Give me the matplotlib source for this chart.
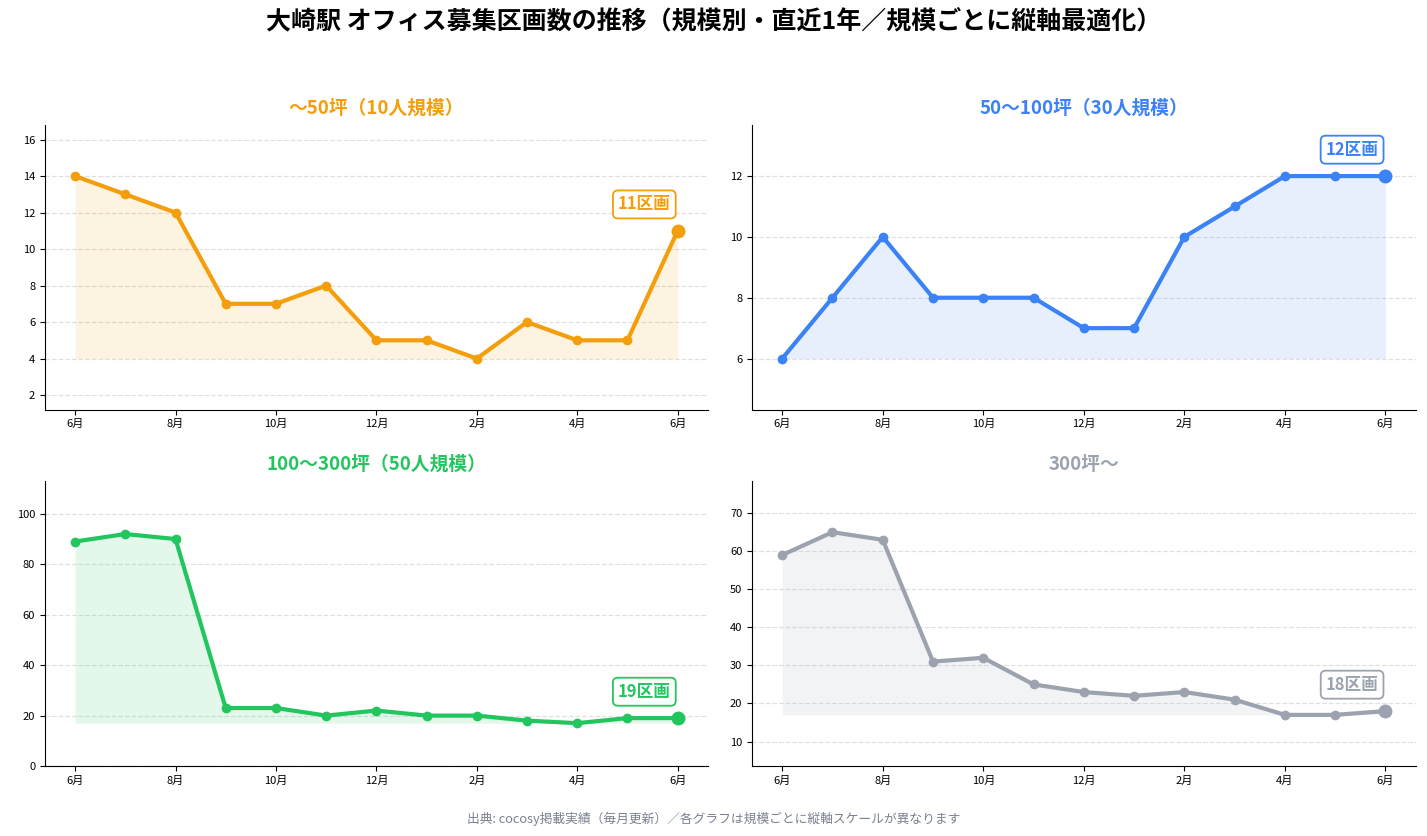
import numpy as np
import matplotlib
matplotlib.use("Agg")
import matplotlib.pyplot as plt

plt.rcParams['font.family'] = ['Noto Sans CJK JP', 'DejaVu Sans']

months = ["6月", "7月", "8月", "9月", "10月", "11月", "12月", "1月", "2月", "3月", "4月", "5月", "6月"]

titles = ["～50坪（10人規模）", "50～100坪（30人規模）", "100～300坪（50人規模）", "300坪～"]
colors = ["#F59E0B", "#3B82F6", "#22C55E", "#9CA3AF"]

small = [14, 13, 12, 7, 7, 8, 5, 5, 4, 6, 5, 5, 11]
mid = [6, 8, 10, 8, 8, 8, 7, 7, 10, 11, 12, 12, 12]
large = [89, 92, 90, 23, 23, 20, 22, 20, 20, 18, 17, 19, 19]
xlarge = [59, 65, 63, 31, 32, 25, 23, 22, 23, 21, 17, 17, 18]
series = [small, mid, large, xlarge]

fig = plt.figure(figsize=(14.27, 8.36), dpi=100)
rects = [
    [0.0315, 0.510, 0.4645, 0.3405],
    [0.527, 0.510, 0.465, 0.3405],
    [0.0315, 0.0837, 0.4645, 0.3409],
    [0.527, 0.0837, 0.465, 0.3409],
]

x = np.arange(len(months))
for i in range(4):
    ax = fig.add_axes(rects[i])
    y = np.array(series[i], dtype=float)
    c = colors[i]
    base = y.min()
    ax.fill_between(x, base, y, color=c, alpha=0.12, linewidth=0)
    ax.plot(x, y, color=c, linewidth=3, marker="o", markersize=6, zorder=3)
    ax.plot(x[-1], y[-1], "o", color=c, markersize=9, zorder=4)
    ax.annotate("%d区画" % y[-1], xy=(x[-1], y[-1]), xytext=(-24, 19),
                textcoords="offset points", ha="center", va="center",
                fontsize=12, fontweight="bold", color=c,
                bbox=dict(boxstyle="round,pad=0.3", fc="white", ec=c, lw=1.3))
    rng = y.max() - y.min()
    pad = rng * 0.28
    ax.set_ylim(max(0, y.min() - pad), y.max() + pad)
    ax.set_xticks(x[::2])
    ax.set_xticklabels(months[::2], fontsize=8)
    ax.tick_params(axis="y", labelsize=8)
    ax.grid(axis="y", linestyle="--", color="#dddddd", linewidth=0.9, alpha=0.9)
    ax.set_axisbelow(True)
    ax.spines["top"].set_visible(False)
    ax.spines["right"].set_visible(False)
    ax.set_title(titles[i], color=c, fontsize=13.5, fontweight="bold", pad=8)

fig.suptitle("大崎駅 オフィス募集区画数の推移（規模別・直近1年／規模ごとに縦軸最適化）",
             fontsize=18, fontweight="bold", y=0.988)
fig.text(0.5, 0.016, "出典: cocosy掲載実績（毎月更新）／各グラフは規模ごとに縦軸スケールが異なります",
         ha="center", fontsize=9.2, color="#7b8190")

fig.savefig("out.png", dpi=100)
